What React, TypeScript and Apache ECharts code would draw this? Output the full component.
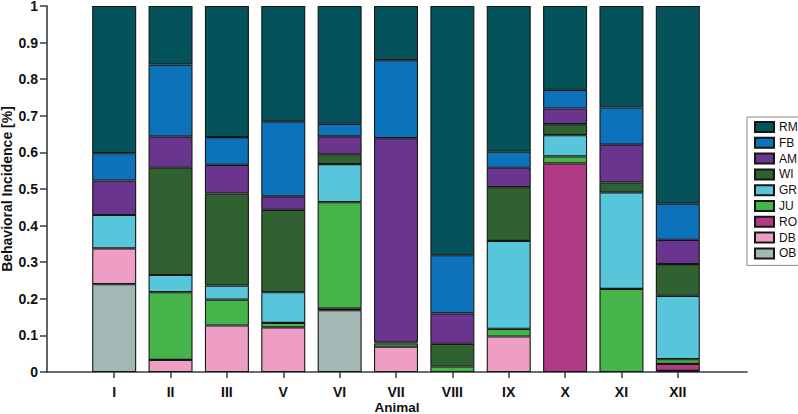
import React, { useEffect, useRef } from "react";
import * as echarts from "echarts";

// Animals on the x axis
const animals = ["I", "II", "III", "V", "VI", "VII", "VIII", "IX", "X", "XI", "XII"];

// Share of each behaviour per animal (stacked bottom → top: OB, DB, RO, JU, GR, WI, AM, FB, RM)
const OB = [0.24, 0, 0, 0, 0.169, 0, 0, 0, 0, 0, 0];
const DB = [0.098, 0.033, 0.127, 0.122, 0.004, 0.069, 0, 0.097, 0, 0, 0.003];
const RO = [0, 0, 0, 0, 0, 0, 0, 0, 0.57, 0, 0.019];
const JU = [0, 0.185, 0.071, 0.012, 0.291, 0.009, 0.015, 0.021, 0.019, 0.227, 0.013];
const GR = [0.091, 0.047, 0.038, 0.084, 0.104, 0, 0, 0.24, 0.058, 0.264, 0.173];
const WI = [0, 0.293, 0.252, 0.225, 0.027, 0.003, 0.062, 0.147, 0.03, 0.027, 0.087];
const AM = [0.094, 0.085, 0.078, 0.037, 0.049, 0.558, 0.083, 0.053, 0.043, 0.103, 0.066];
const FB = [0.075, 0.197, 0.076, 0.205, 0.034, 0.213, 0.159, 0.044, 0.051, 0.102, 0.099];
const RM = [0.402, 0.16, 0.358, 0.315, 0.322, 0.148, 0.681, 0.398, 0.229, 0.277, 0.54];

const stackOrder = ["OB", "DB", "RO", "JU", "GR", "WI", "AM", "FB", "RM"];
const legendOrder = ["RM", "FB", "AM", "WI", "GR", "JU", "RO", "DB", "OB"];
const valuesByName: Record<string, number[]> = { OB, DB, RO, JU, GR, WI, AM, FB, RM };

const colors: Record<string, string> = {
  RM: "#04525a",
  FB: "#0c72ba",
  AM: "#6a358f",
  WI: "#2f6230",
  GR: "#58c6da",
  JU: "#45b54b",
  RO: "#b13a85",
  DB: "#ee9ec4",
  OB: "#a3b8b5",
};

const FONT = "'Liberation Sans', Arial, Helvetica, sans-serif";
const AXIS_COLOR = "#3c3c3c";

export default function App() {
  const ref = useRef<HTMLDivElement>(null);

  useEffect(() => {
    if (!ref.current) return;
    const chart = echarts.init(ref.current, null, { renderer: "svg" });

    const series = stackOrder.map((name) => ({
      name,
      type: "bar",
      stack: "total",
      xAxisIndex: 0,
      yAxisIndex: 0,
      barWidth: 44,
      data: valuesByName[name].map((v) => (v === 0 ? "-" : v)),
      itemStyle: {
        color: colors[name],
        borderColor: "#161616",
        borderWidth: 1.1,
      },
    }));

    chart.setOption({
      animation: false,
      textStyle: { fontFamily: FONT },
      legend: {
        data: legendOrder,
        orient: "vertical",
        left: 747,
        top: 117,
        icon: "rect",
        itemWidth: 19,
        itemHeight: 10,
        itemGap: 3.8,
        padding: [4, 3, 6, 7],
        borderColor: "#8a8a8a",
        borderWidth: 1,
        textStyle: { fontSize: 12, color: "#111", fontFamily: FONT },
        selectedMode: false,
      },
      grid: [
        // bars
        { left: 86, right: 92, top: 6, bottom: 42, containLabel: false, outerBoundsMode: "none" },
        // visible frame axes
        { left: 47, right: 51, top: 6, bottom: 42, containLabel: false, outerBoundsMode: "none" },
      ],
      xAxis: [
        {
          gridIndex: 0,
          type: "category",
          data: animals,
          boundaryGap: true,
          axisLine: { show: false },
          axisTick: {
            show: true,
            alignWithLabel: true,
            length: 6,
            lineStyle: { color: AXIS_COLOR, width: 1.5 },
          },
          axisLabel: {
            margin: 13,
            fontSize: 14,
            fontWeight: "bold",
            color: "#111",
            fontFamily: FONT,
          },
          splitLine: { show: false },
        },
        {
          gridIndex: 1,
          type: "value",
          min: 0,
          max: 1,
          axisLine: { show: true, lineStyle: { color: AXIS_COLOR, width: 1.6 } },
          axisTick: { show: false },
          axisLabel: { show: false },
          splitLine: { show: false },
          name: "Animal",
          nameLocation: "middle",
          nameGap: 28,
          nameMoveOverlap: false,
          nameTextStyle: { fontSize: 13.5, fontWeight: "bold", color: "#111", fontFamily: FONT },
        },
      ],
      yAxis: [
        {
          gridIndex: 0,
          type: "value",
          min: 0,
          max: 1,
          show: false,
          splitLine: { show: false },
        },
        {
          gridIndex: 1,
          type: "value",
          min: 0,
          max: 1,
          interval: 0.1,
          axisLine: { show: true, lineStyle: { color: AXIS_COLOR, width: 1.6 } },
          axisTick: { show: true, length: 7, lineStyle: { color: AXIS_COLOR, width: 1.5 } },
          axisLabel: {
            margin: 9,
            fontSize: 14,
            lineHeight: 12,
            fontWeight: "bold",
            color: "#111",
            fontFamily: FONT,
          },
          splitLine: { show: false },
          name: "Behavioral Incidence [%]",
          nameLocation: "middle",
          nameRotate: 90,
          nameGap: 33,
          nameMoveOverlap: false,
          nameTextStyle: { fontSize: 14, fontWeight: "bold", color: "#111", fontFamily: FONT },
        },
      ],
      series,
    });

    return () => chart.dispose();
  }, []);

  return (
    <div
      ref={ref}
      style={{ position: "fixed", left: 0, top: 0, width: 798, height: 414, background: "#fff" }}
    />
  );
}
